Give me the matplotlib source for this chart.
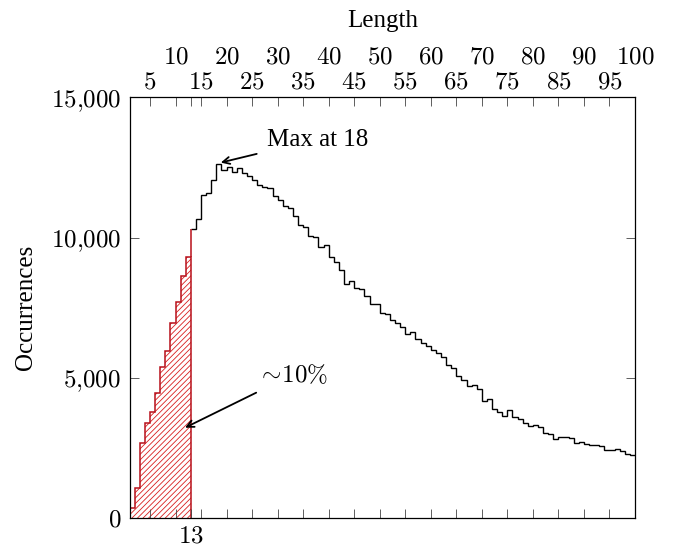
"""Length histogram with the short-sequence share hatched."""

import matplotlib

matplotlib.use("Agg")
import matplotlib.pyplot as plt
import numpy as np
from matplotlib.ticker import FuncFormatter

# occurrences per length bin, bins [1,2), [2,3), ..., [99,100)
OCCURRENCES = [
    350, 1070, 2670, 3390, 3800, 4450, 5400, 5960, 6950, 7720,
    8640, 9320, 10300, 10650, 11520, 11600, 12050, 12640, 12400, 12530,
    12330, 12490, 12300, 12200, 12060, 11880, 11820, 11780, 11500, 11340,
    11110, 11050, 10780, 10440, 10390, 10070, 10010, 9660, 9730, 9320,
    9145, 8850, 8350, 8470, 8200, 8160, 7920, 7650, 7640, 7330,
    7280, 7070, 6950, 6800, 6580, 6620, 6380, 6240, 6150, 6010,
    5890, 5750, 5450, 5350, 5080, 4930, 4720, 4750, 4600, 4180,
    4240, 3885, 3800, 3650, 3860, 3600, 3530, 3410, 3300, 3325,
    3265, 3030, 3000, 2815, 2910, 2890, 2860, 2670, 2730, 2640,
    2610, 2610, 2590, 2435, 2435, 2460, 2400, 2280, 2255,
]
FIRST_LENGTH = 1
CUTOFF = 13
PEAK_LENGTH = 18
Y_TICKS = [0, 5000, 10000, 15000]
TOP_TICKS_LOW = [5, 15, 25, 35, 45, 55, 65, 75, 85, 95]
TOP_TICKS_HIGH = [10, 20, 30, 40, 50, 60, 70, 80, 90, 100]

RED_EDGE = "#b8101a"
RED_HATCH = "#d81e1e"
FONT_SIZE = 18

plt.rcParams["font.family"] = ["Liberation Serif", "DejaVu Serif"]
plt.rcParams["mathtext.fontset"] = "cm"
plt.rcParams["hatch.color"] = RED_HATCH
plt.rcParams["hatch.linewidth"] = 0.6


def math_label(value, _pos=None):
    return "$" + f"{int(value):,}".replace(",", "{,}") + "$"


values = np.array(OCCURRENCES, dtype=float)
edges = np.arange(FIRST_LENGTH, FIRST_LENGTH + len(values) + 1)
n_red = CUTOFF - FIRST_LENGTH

fig = plt.figure(figsize=(6.76, 5.5), dpi=100)
ax = fig.add_axes([129.6 / 676, 1 - 518.3 / 550, 505.4 / 676, 421.0 / 550])

# hatched share up to the cutoff
ax.stairs(values[:n_red], edges[: n_red + 1], baseline=0, fill=True,
          facecolor="none", edgecolor=RED_HATCH, hatch="//////", linewidth=0)
ax.stairs(values[:n_red], edges[: n_red + 1], baseline=0,
          color=RED_EDGE, linewidth=1.1)
ax.vlines(edges[n_red], values[n_red - 1], values[n_red], color=RED_EDGE, linewidth=1.1)
ax.stairs(values[n_red:], edges[n_red:], baseline=None, color="black", linewidth=1.0)

ax.set_xlim(edges[0], edges[-1])
ax.set_ylim(Y_TICKS[0], Y_TICKS[-1])

ax.set_xticks(sorted(TOP_TICKS_LOW + TOP_TICKS_HIGH + [CUTOFF]))
ax.set_yticks(Y_TICKS)
ax.yaxis.set_major_formatter(FuncFormatter(math_label))
ax.tick_params(axis="both", direction="in", length=6.5, width=0.6, color="#444444",
               top=True, right=True, labelbottom=False, labelsize=FONT_SIZE)
ax.tick_params(axis="y", pad=6)
for spine in ax.spines.values():
    spine.set_linewidth(0.9)

top_low = ax.secondary_xaxis("top")
top_low.set_xticks(TOP_TICKS_LOW, [math_label(t) for t in TOP_TICKS_LOW])
top_low.tick_params(length=0, pad=3, labelsize=FONT_SIZE)
top_high = ax.secondary_xaxis("top")
top_high.set_xticks(TOP_TICKS_HIGH, [math_label(t) for t in TOP_TICKS_HIGH])
top_high.tick_params(length=0, pad=21, labelsize=FONT_SIZE)
top_high.set_xlabel("Length", fontsize=FONT_SIZE, labelpad=14)
bottom = ax.secondary_xaxis("bottom")
bottom.set_xticks([CUTOFF], [math_label(CUTOFF)])
bottom.tick_params(length=0, pad=5, labelsize=FONT_SIZE)
for sec in (top_low, top_high, bottom):
    for spine in sec.spines.values():
        spine.set_visible(False)

ax.set_ylabel("Occurrences", fontsize=FONT_SIZE, labelpad=10)

arrow = dict(arrowstyle="->,head_length=0.5,head_width=0.25", color="black", lw=1.3,
             shrinkA=0, shrinkB=0)
ax.annotate("", xy=(PEAK_LENGTH + 0.86, 12674), xytext=(25.9, 12984), arrowprops=arrow)
ax.text(27.9, 13480, f"Max at {PEAK_LENGTH}", fontsize=FONT_SIZE, ha="left", va="center")
ax.annotate("", xy=(11.86, 3229), xytext=(25.8, 4476), arrowprops=arrow)
ax.text(26.0, 5082, r"$\sim\!10\%$", fontsize=FONT_SIZE, ha="left", va="center")

fig.savefig("out.png", dpi=100)
